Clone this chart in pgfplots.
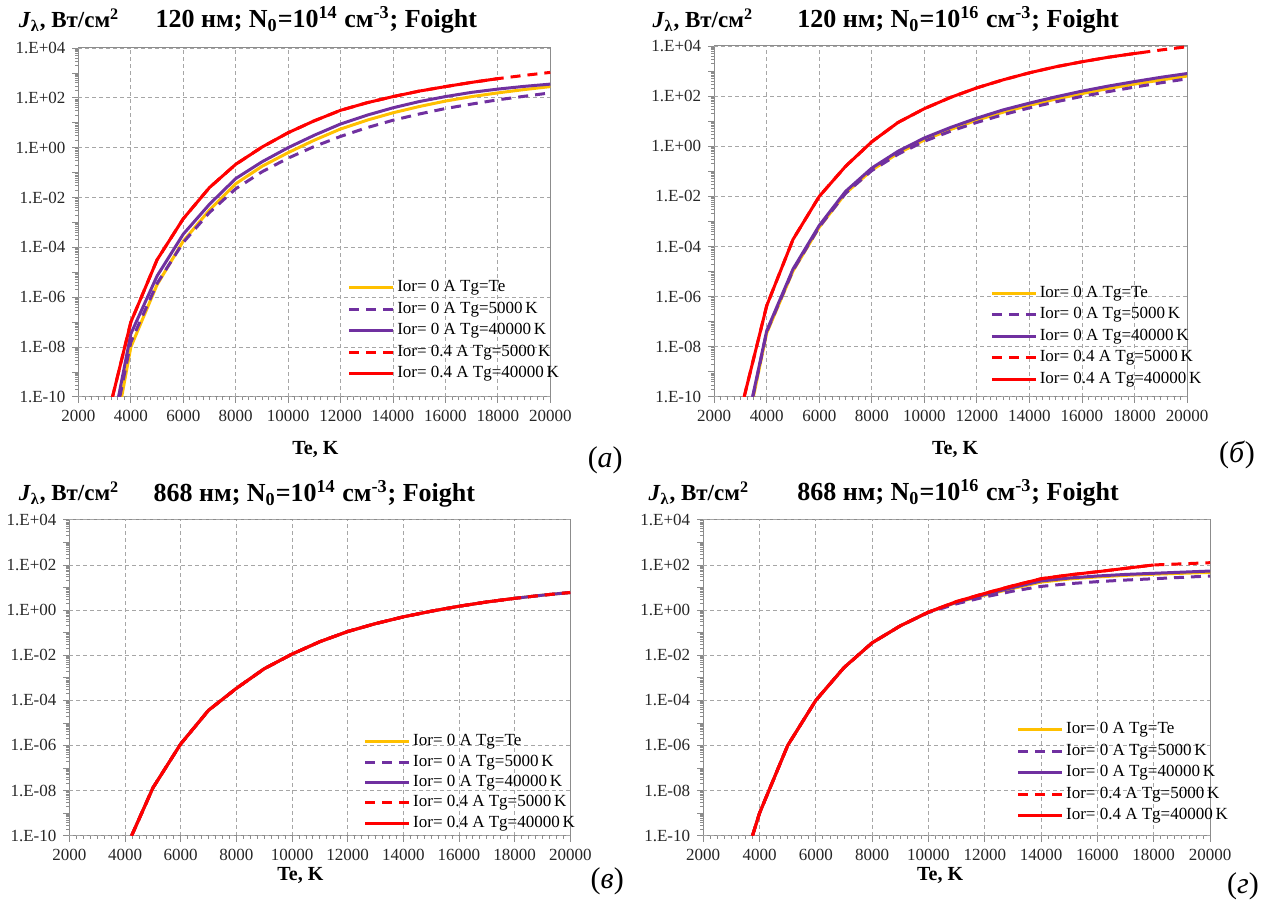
\documentclass[border=0pt]{standalone}
\usepackage{fontspec}
\setmainfont{Liberation Serif}
\usepackage{pgfplots}
\pgfplotsset{compat=1.18}

\definecolor{cy}{HTML}{FFC000}
\definecolor{cp}{HTML}{7030A0}
\definecolor{cr}{HTML}{FF0000}
\definecolor{gridc}{HTML}{A6A6A6}
\definecolor{axc}{HTML}{8C8C8C}

\pgfplotsset{
 panel/.style={
  scale only axis,
  xmin=2000,xmax=20000,ymin=1e-10,ymax=1e4,
  scaled x ticks=false,
  xtick={2000,4000,...,20000},
  xticklabels={2000,4000,6000,8000,10000,12000,14000,16000,18000,20000},
  minor x tick num=7,
  ytick={1e-10,1e-9,1e-8,1e-7,1e-6,1e-5,1e-4,1e-3,1e-2,1e-1,1,10,100,1000,10000},
  yticklabels={1.E-10,,1.E-08,,1.E-06,,1.E-04,,1.E-02,,1.E+00,,1.E+02,,1.E+04},
  minor ytick={2e-10,3e-10,4e-10,5e-10,6e-10,7e-10,8e-10,9e-10,
   2e-9,3e-9,4e-9,5e-9,6e-9,7e-9,8e-9,9e-9,
   2e-8,3e-8,4e-8,5e-8,6e-8,7e-8,8e-8,9e-8,
   2e-7,3e-7,4e-7,5e-7,6e-7,7e-7,8e-7,9e-7,
   2e-6,3e-6,4e-6,5e-6,6e-6,7e-6,8e-6,9e-6,
   2e-5,3e-5,4e-5,5e-5,6e-5,7e-5,8e-5,9e-5,
   2e-4,3e-4,4e-4,5e-4,6e-4,7e-4,8e-4,9e-4,
   2e-3,3e-3,4e-3,5e-3,6e-3,7e-3,8e-3,9e-3,
   2e-2,3e-2,4e-2,5e-2,6e-2,7e-2,8e-2,9e-2,
   0.2,0.3,0.4,0.5,0.6,0.7,0.8,0.9,
   2,3,4,5,6,7,8,9,
   20,30,40,50,60,70,80,90,
   200,300,400,500,600,700,800,900,
   2000,3000,4000,5000,6000,7000,8000,9000},
  extra y ticks={1e-10,1e-8,1e-6,1e-4,1e-2,1,100,10000},
  extra y tick labels={},
  extra y tick style={grid=major},
  xmajorgrids=true,
  grid style={gridc, line width=0.4pt, dash pattern=on 2pt off 1.5pt},
  axis line style={axc, line width=0.5pt},
  tick style={axc, line width=0.4pt},
  major tick length=3pt,
  minor tick length=1.6pt,
  tick align=outside,
  xtick pos=bottom, ytick pos=left,
  ticklabel style={font=\fontsize{8.5}{9}\selectfont, text=black!85},
  legend cell align=left,
  legend style={draw=none, fill=none, font=\fontsize{8.5}{9}\selectfont,
    anchor=north west, row sep=1.2pt, inner sep=1pt,
    nodes={inner sep=1.2pt}},
  legend image code/.code={\draw[##1] (0pt,0pt) -- (22pt,0pt);},
 },
 sy/.style={cy, line width=1.5pt},
 spd/.style={cp, line width=1.5pt, dash pattern=on 5pt off 3.5pt},
 sp/.style={cp, line width=1.5pt},
 srd/.style={cr, line width=1.5pt, dash pattern=on 5pt off 3.5pt},
 sr/.style={cr, line width=1.5pt},
}

\newcommand{\leg}{\legend{Ior= 0 A Tg=Te, Ior= 0 A Tg=5000\,K, Ior= 0 A Tg=40000\,K, Ior= 0.4 A Tg=5000\,K, Ior= 0.4 A Tg=40000\,K}}
\newcommand{\ttl}[2]{\textbf{#1 нм; N\textsubscript{0}=10\textsuperscript{#2} см\textsuperscript{-3}; Foight}}
\newcommand{\jl}{\textbf{\textit{J}\textsubscript{λ}, Вт/см\textsuperscript{2}}}

\begin{document}
\begin{tikzpicture}
\path (0pt,0pt) rectangle (633pt,-452pt);

% ---------- (a) ----------
\begin{axis}[ymode=log, panel, at={(39pt,-198.5pt)}, anchor=south west, width=236pt, height=174.5pt,
  legend style={at={(0.566,0.347)}}]
\addplot[sy] coordinates {(3650,1e-10) (4000,1e-8) (5000,3.16e-6) (6000,1.78e-4) (7000,3.16e-3) (8000,3.55e-2) (9000,0.178) (10000,0.631) (11000,2.0) (12000,5.62) (13000,12.6) (14000,25.1) (15000,44.7) (16000,74.1) (17000,112) (18000,158) (19000,214) (20000,282)};
\addplot[spd] coordinates {(3580,1e-10) (4000,1.58e-8) (5000,3.55e-6) (6000,1.58e-4) (7000,2.51e-3) (8000,2.24e-2) (9000,0.107) (10000,0.380) (11000,1.12) (12000,2.82) (13000,6.31) (14000,12.6) (15000,22.4) (16000,37.2) (17000,56.2) (18000,83.2) (19000,115) (20000,158)};
\addplot[sp] coordinates {(3530,1e-10) (4000,3.39e-8) (5000,7.08e-6) (6000,3.39e-4) (7000,5.37e-3) (8000,5.75e-2) (9000,0.269) (10000,1.0) (11000,3.16) (12000,8.91) (13000,20.0) (14000,39.8) (15000,70.8) (16000,112) (17000,166) (18000,224) (19000,288) (20000,355)};
\addplot[srd] coordinates {(3300,1e-10) (4000,1e-7) (5000,3.16e-5) (6000,1.41e-3) (7000,2.51e-2) (8000,0.214) (9000,1.05) (10000,3.98) (11000,12.0) (12000,31.6) (13000,63.1) (14000,112) (15000,186) (16000,282) (17000,417) (18000,589) (19000,794) (20000,1047)};
\addplot[sr] coordinates {(3300,1e-10) (4000,1e-7) (5000,3.16e-5) (6000,1.41e-3) (7000,2.51e-2) (8000,0.214) (9000,1.05) (10000,3.98) (11000,12.0) (12000,31.6) (13000,63.1) (14000,112) (15000,186) (16000,282) (17000,417) (18000,589)};
\leg
\end{axis}

% ---------- (б) ----------
\begin{axis}[ymode=log, panel, at={(357pt,-198.5pt)}, anchor=south west, width=236.5pt, height=175.5pt,
  legend style={at={(0.579,0.33)}}]
\addplot[sy] coordinates {(3490,1e-10) (4000,3.55e-8) (5000,1.05e-5) (6000,5.89e-4) (7000,1.32e-2) (8000,0.112) (9000,0.525) (10000,1.78) (11000,4.68) (12000,11.0) (13000,22.9) (14000,42.7) (15000,75.9) (16000,126) (17000,200) (18000,302) (19000,437) (20000,631)};
\addplot[spd] coordinates {(3470,1e-10) (4000,3.98e-8) (5000,1.12e-5) (6000,6.03e-4) (7000,1.32e-2) (8000,0.107) (9000,0.479) (10000,1.58) (11000,3.98) (12000,8.91) (13000,18.2) (14000,33.9) (15000,58.9) (16000,97.7) (17000,151) (18000,229) (19000,339) (20000,490)};
\addplot[sp] coordinates {(3460,1e-10) (4000,4.37e-8) (5000,1.26e-5) (6000,6.92e-4) (7000,1.58e-2) (8000,0.135) (9000,0.631) (10000,2.14) (11000,5.62) (12000,13.2) (13000,28.2) (14000,52.5) (15000,93.3) (16000,158) (17000,251) (18000,380) (19000,562) (20000,794)};
\addplot[srd] coordinates {(3140,1e-10) (4000,4.37e-7) (5000,1.91e-4) (6000,1e-2) (7000,0.158) (8000,1.51) (9000,8.91) (10000,31.6) (11000,89.1) (12000,214) (13000,447) (14000,851) (15000,1479) (16000,2344) (17000,3548) (18000,5012) (19000,6918) (20000,9333)};
\addplot[sr] coordinates {(3140,1e-10) (4000,4.37e-7) (5000,1.91e-4) (6000,1e-2) (7000,0.158) (8000,1.51) (9000,8.91) (10000,31.6) (11000,89.1) (12000,214) (13000,447) (14000,851) (15000,1479) (16000,2344) (17000,3548) (18000,5012) (18300,5500)};
\leg
\end{axis}

% ---------- (в) ----------
\begin{axis}[ymode=log, panel, at={(34.5pt,-418pt)}, anchor=south west, width=250.5pt, height=158pt,
  legend style={at={(0.583,0.335)}, row sep=0.6pt}]
\addplot[sy] coordinates {(4235,1e-10) (5000,1.32e-8) (6000,1.17e-6) (7000,3.63e-5) (8000,3.39e-4) (9000,2.51e-3) (10000,1.12e-2) (11000,3.98e-2) (12000,0.112) (13000,0.251) (14000,0.501) (15000,0.891) (16000,1.48) (17000,2.29) (18000,3.31) (19000,4.57) (20000,6.03)};
\addplot[spd] coordinates {(4235,1e-10) (5000,1.32e-8) (6000,1.17e-6) (7000,3.63e-5) (8000,3.39e-4) (9000,2.51e-3) (10000,1.12e-2) (11000,3.98e-2) (12000,0.112) (13000,0.251) (14000,0.501) (15000,0.891) (16000,1.48) (17000,2.29) (18000,3.31) (19000,4.57) (20000,6.03)};
\addplot[sp] coordinates {(4235,1e-10) (5000,1.32e-8) (6000,1.17e-6) (7000,3.63e-5) (8000,3.39e-4) (9000,2.51e-3) (10000,1.12e-2) (11000,3.98e-2) (12000,0.112) (13000,0.251) (14000,0.501) (15000,0.891) (16000,1.48) (17000,2.29) (18000,3.31) (19000,4.57) (20000,6.03)};
\addplot[srd] coordinates {(4235,1e-10) (5000,1.32e-8) (6000,1.17e-6) (7000,3.63e-5) (8000,3.39e-4) (9000,2.51e-3) (10000,1.12e-2) (11000,3.98e-2) (12000,0.112) (13000,0.251) (14000,0.501) (15000,0.891) (16000,1.48) (17000,2.29) (18000,3.31) (19000,4.57) (20000,6.03)};
\addplot[sr] coordinates {(4235,1e-10) (5000,1.32e-8) (6000,1.17e-6) (7000,3.63e-5) (8000,3.39e-4) (9000,2.51e-3) (10000,1.12e-2) (11000,3.98e-2) (12000,0.112) (13000,0.251) (14000,0.501) (15000,0.891) (16000,1.48) (17000,2.29) (18000,3.31)};
\leg
\end{axis}

% ---------- (г) ----------
\begin{axis}[ymode=log, panel, at={(351.5pt,-418pt)}, anchor=south west, width=253.5pt, height=158pt,
  legend style={at={(0.614,0.373)}}]
\addplot[sy] coordinates {(3750,1e-10) (4000,1e-9) (5000,1e-6) (6000,1e-4) (7000,2.82e-3) (8000,3.55e-2) (9000,0.2) (10000,0.813) (11000,2.19) (12000,4.57) (13000,9.12) (14000,17.4) (15000,24.0) (16000,29.5) (17000,34.7) (18000,38.9) (19000,42.7) (20000,46.8)};
\addplot[spd] coordinates {(3750,1e-10) (4000,1e-9) (5000,1e-6) (6000,1e-4) (7000,2.82e-3) (8000,3.55e-2) (9000,0.2) (10000,0.776) (11000,1.91) (12000,3.80) (13000,6.92) (14000,11.2) (15000,14.8) (16000,18.2) (17000,21.4) (18000,24.5) (19000,28.2) (20000,32.4)};
\addplot[sp] coordinates {(3750,1e-10) (4000,1e-9) (5000,1e-6) (6000,1e-4) (7000,2.82e-3) (8000,3.55e-2) (9000,0.2) (10000,0.813) (11000,2.24) (12000,4.90) (13000,10.0) (14000,19.5) (15000,26.3) (16000,32.4) (17000,38.0) (18000,42.7) (19000,47.9) (20000,53.7)};
\addplot[srd] coordinates {(3750,1e-10) (4000,1e-9) (5000,1e-6) (6000,1e-4) (7000,2.82e-3) (8000,3.55e-2) (9000,0.2) (10000,0.813) (11000,2.40) (12000,5.50) (13000,12.0) (14000,24.5) (15000,36.3) (16000,50.1) (17000,70.8) (18000,100) (19000,112) (20000,126)};
\addplot[sr] coordinates {(3750,1e-10) (4000,1e-9) (5000,1e-6) (6000,1e-4) (7000,2.82e-3) (8000,3.55e-2) (9000,0.2) (10000,0.813) (11000,2.40) (12000,5.50) (13000,12.0) (14000,24.5) (15000,36.3) (16000,50.1) (17000,70.8) (18000,100)};
\leg
\end{axis}

% ---------- texts ----------
\node[font=\fontsize{13}{14}\selectfont] at (158pt,-10pt) {\ttl{120}{14}};
\node[font=\fontsize{13}{14}\selectfont] at (479pt,-10pt) {\ttl{120}{16}};
\node[font=\fontsize{13}{14}\selectfont] at (157pt,-247pt) {\ttl{868}{14}};
\node[font=\fontsize{13}{14}\selectfont] at (479pt,-246.5pt) {\ttl{868}{16}};
\node[anchor=west, inner sep=0pt, font=\fontsize{11.5}{12}\selectfont] at (9pt,-10pt) {\jl};
\node[anchor=west, inner sep=0pt, font=\fontsize{11.5}{12}\selectfont] at (326pt,-10pt) {\jl};
\node[anchor=west, inner sep=0pt, font=\fontsize{11.5}{12}\selectfont] at (9pt,-246.5pt) {\jl};
\node[anchor=west, inner sep=0pt, font=\fontsize{11.5}{12}\selectfont] at (324pt,-246.5pt) {\jl};
\node[font=\fontsize{10}{11}\selectfont] at (157.5pt,-225pt) {\textbf{Te, K}};
\node[font=\fontsize{10}{11}\selectfont] at (477.5pt,-225pt) {\textbf{Te, K}};
\node[font=\fontsize{10}{11}\selectfont] at (150pt,-438pt) {\textbf{Te, K}};
\node[font=\fontsize{10}{11}\selectfont] at (470pt,-438pt) {\textbf{Te, K}};
\node[font=\fontsize{15}{16}\selectfont] at (302.5pt,-230pt) {(\textit{а})};
\node[font=\fontsize{15}{16}\selectfont] at (618.5pt,-227.5pt) {(\textit{б})};
\node[font=\fontsize{15}{16}\selectfont] at (303.5pt,-441pt) {(\textit{в})};
\node[font=\fontsize{15}{16}\selectfont] at (621.5pt,-443.5pt) {(\textit{г})};
\end{tikzpicture}
\end{document}
